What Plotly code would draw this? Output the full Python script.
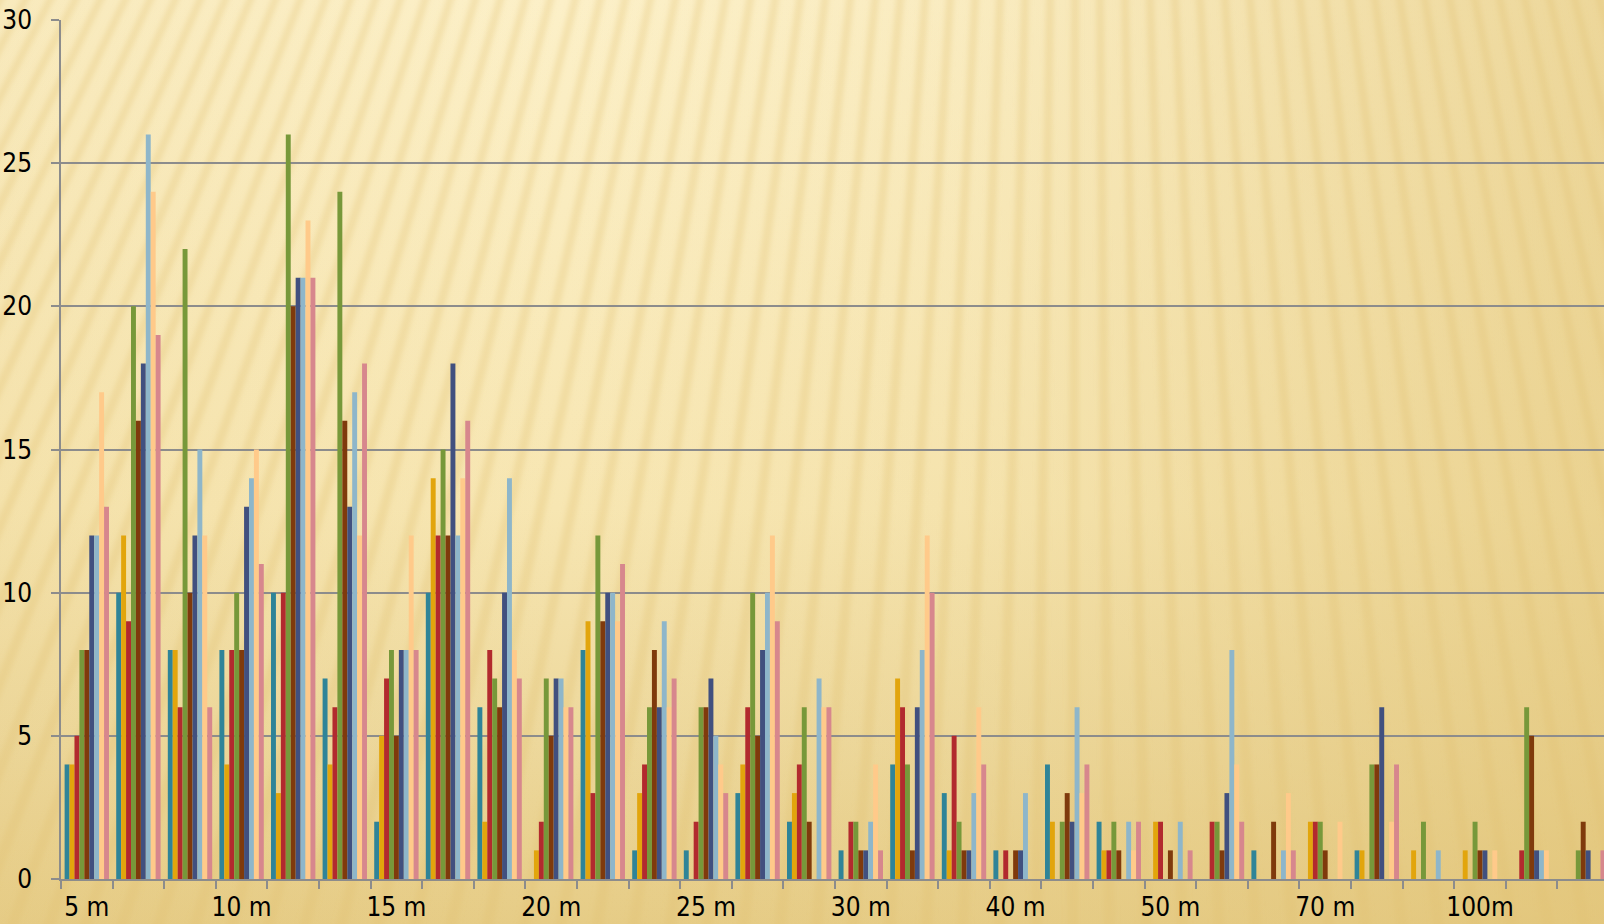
import base64
import plotly.graph_objects as go

# ---------------- data ----------------
categories = ["5 m", "7 m", "8 m", "10 m", "12 m", "13 m", "15 m", "17 m", "18 m",
              "20 m", "22 m", "23 m", "25 m", "27 m", "28 m", "30 m", "33 m", "37 m",
              "40 m", "43 m", "47 m", "50 m", "57 m", "63 m", "70 m", "80 m", "90 m",
              "100m", "120 m", "150 m"]
shown_labels = ["5 m", "10 m", "15 m", "20 m", "25 m", "30 m", "40 m", "50 m", "70 m", "100m"]

series_names = ["Series 1", "Series 2", "Series 3", "Series 4", "Series 5",
                "Series 6", "Series 7", "Series 8", "Series 9"]

s1 = [4, 10, 8, 8, 10, 7, 2, 10, 6, 0, 8, 1, 1, 3, 2, 1, 4, 3, 1, 4, 2, 0, 0, 1, 0, 1, 0, 0, 0, 0]
s2 = [4, 12, 8, 4, 3, 4, 5, 14, 2, 1, 9, 3, 0, 4, 3, 0, 7, 1, 0, 2, 1, 2, 0, 0, 2, 1, 1, 1, 0, 0]
s3 = [5, 9, 6, 8, 10, 6, 7, 12, 8, 2, 3, 4, 2, 6, 4, 2, 6, 5, 1, 0, 1, 2, 2, 0, 2, 0, 0, 0, 1, 0]
s4 = [8, 20, 22, 10, 26, 24, 8, 15, 7, 7, 12, 6, 6, 10, 6, 2, 4, 2, 0, 2, 2, 0, 2, 0, 2, 4, 2, 2, 6, 1]
s5 = [8, 16, 10, 8, 20, 16, 5, 12, 6, 5, 9, 8, 6, 5, 2, 1, 1, 1, 1, 3, 1, 1, 1, 2, 1, 4, 0, 1, 5, 2]
s6 = [12, 18, 12, 13, 21, 13, 8, 18, 10, 7, 10, 6, 7, 8, 0, 1, 6, 1, 1, 2, 0, 0, 3, 0, 0, 6, 0, 1, 1, 1]
s7 = [12, 26, 15, 14, 21, 17, 8, 12, 14, 7, 10, 9, 5, 10, 7, 2, 8, 3, 3, 6, 2, 2, 8, 1, 0, 0, 1, 0, 1, 0]
s8 = [17, 24, 12, 15, 23, 12, 12, 14, 8, 6, 9, 6, 4, 12, 6, 4, 12, 6, 0, 3, 1, 0, 4, 3, 2, 2, 0, 1, 1, 0]
s9 = [13, 19, 6, 11, 21, 18, 8, 16, 7, 6, 11, 7, 3, 9, 6, 1, 10, 4, 0, 4, 2, 1, 2, 1, 0, 4, 0, 0, 0, 1]
series_values = [s1, s2, s3, s4, s5, s6, s7, s8, s9]

y_tick_values = [0, 5, 10, 15, 20, 25, 30]

# ---------------- style ----------------
colors = ["#2F8498", "#E2A50C", "#B22A2E", "#77983A", "#7F3A0C",
          "#41507F", "#8EB6CA", "#FFCA8A", "#D7878D"]
FONT = "Liberation Sans Narrow, DejaVu Sans Condensed, Noto Sans, sans-serif"
GRID = "#8C8C8C"
TXT = "#000000"

W, H = 1604, 924
ML, MR, MT, MB = 61, 0, 20, 45

# ---------------- background (decorative svg) ----------------
fx, fy = 1080.0, -2000.0
rays = []
x0 = -600
while x0 < 2300:
    w = 8.0
    scale_top = (-20 - fy) / (0 - fy)
    scale_bot = (H + 20 - fy) / (0 - fy)
    xt = fx + (x0 - fx) * scale_top
    xb = fx + (x0 - fx) * scale_bot
    wt = w * scale_top / 2
    wb = w * scale_bot / 2
    rays.append(f"<polygon points='{xt - wt:.1f},-20 {xt + wt:.1f},-20 {xb + wb:.1f},{H + 20} {xb - wb:.1f},{H + 20}'/>")
    x0 += 25

svg = f"""<svg xmlns='http://www.w3.org/2000/svg' width='{W}' height='{H}' viewBox='0 0 {W} {H}' preserveAspectRatio='none'>
<defs>
<linearGradient id='v' x1='0' y1='0' x2='0' y2='1'>
<stop offset='0' stop-color='#FCF0C8'/>
<stop offset='0.55' stop-color='#F7E6B2'/>
<stop offset='0.8' stop-color='#EDD89C'/>
<stop offset='1' stop-color='#E6CC86'/>
</linearGradient>
<linearGradient id='h' x1='0' y1='0' x2='1' y2='0'>
<stop offset='0' stop-color='#E3C77E' stop-opacity='0.15'/>
<stop offset='0.35' stop-color='#E3C77E' stop-opacity='0'/>
<stop offset='0.6' stop-color='#E3C77E' stop-opacity='0.1'/>
<stop offset='1' stop-color='#E0C274' stop-opacity='0.55'/>
</linearGradient>
<filter id='b' x='-0.1' y='-0.1' width='1.2' height='1.2'><feGaussianBlur stdDeviation='2.5'/></filter>
</defs>
<rect x='0' y='0' width='{W}' height='{H}' fill='url(#v)'/>
<rect x='0' y='0' width='{W}' height='{H}' fill='url(#h)'/>
<g filter='url(#b)' fill='#E0C170' fill-opacity='0.3'>
{''.join(rays)}
</g>
</svg>"""
bg_uri = "data:image/svg+xml;base64," + base64.b64encode(svg.encode("utf-8")).decode("ascii")

# ---------------- figure ----------------
fig = go.Figure()
for name, vals, col in zip(series_names, series_values, colors):
    fig.add_trace(go.Bar(
        x=categories, y=vals, name=name,
        marker=dict(color=col, line=dict(width=0)),
        showlegend=False, hoverinfo="x+y+name",
    ))

pw = W - ML - MR
ph = H - MT - MB
cat_px = 51.6
x_end = -0.5 + pw / cat_px

fig.update_layout(
    width=W, height=H, autosize=False,
    margin=dict(l=ML, r=MR, t=MT, b=MB, pad=0),
    barmode="group", bargap=0.14, bargroupgap=0,
    paper_bgcolor="#EDD89C", plot_bgcolor="rgba(0,0,0,0)",
    font=dict(family=FONT, size=26, color=TXT),
    images=[dict(
        source=bg_uri, xref="paper", yref="paper",
        x=-ML / pw, y=1 + MT / ph, sizex=W / pw, sizey=H / ph,
        xanchor="left", yanchor="top", sizing="stretch", layer="below",
    )],
    xaxis=dict(
        type="category", categoryorder="array", categoryarray=categories,
        range=[-0.5, x_end], automargin=False,
        tickmode="array", tickvals=categories,
        ticktext=[c if c in shown_labels else "" for c in categories],
        tickangle=0,
        tickson="boundaries", ticks="outside", ticklen=8, tickwidth=1.5, tickcolor=GRID,
        showline=True, linecolor=GRID, linewidth=1.5,
        showgrid=False, zeroline=False,
        ticklabelstandoff=4,
        tickfont=dict(family=FONT, size=26, color=TXT),
    ),
    yaxis=dict(
        range=[0, 30], tickmode="array", tickvals=y_tick_values, automargin=False,
        showgrid=True, gridcolor=GRID, gridwidth=1.5,
        showline=True, linecolor=GRID, linewidth=1.5,
        ticks="outside", ticklen=8, tickwidth=1.5, tickcolor=GRID,
        zeroline=False, ticklabelstandoff=14,
        tickfont=dict(family=FONT, size=26, color=TXT),
    ),
)

fig.write_html("out.html", config={"displayModeBar": False},
               post_script="document.body.style.margin='0';document.body.style.overflow='hidden';")
